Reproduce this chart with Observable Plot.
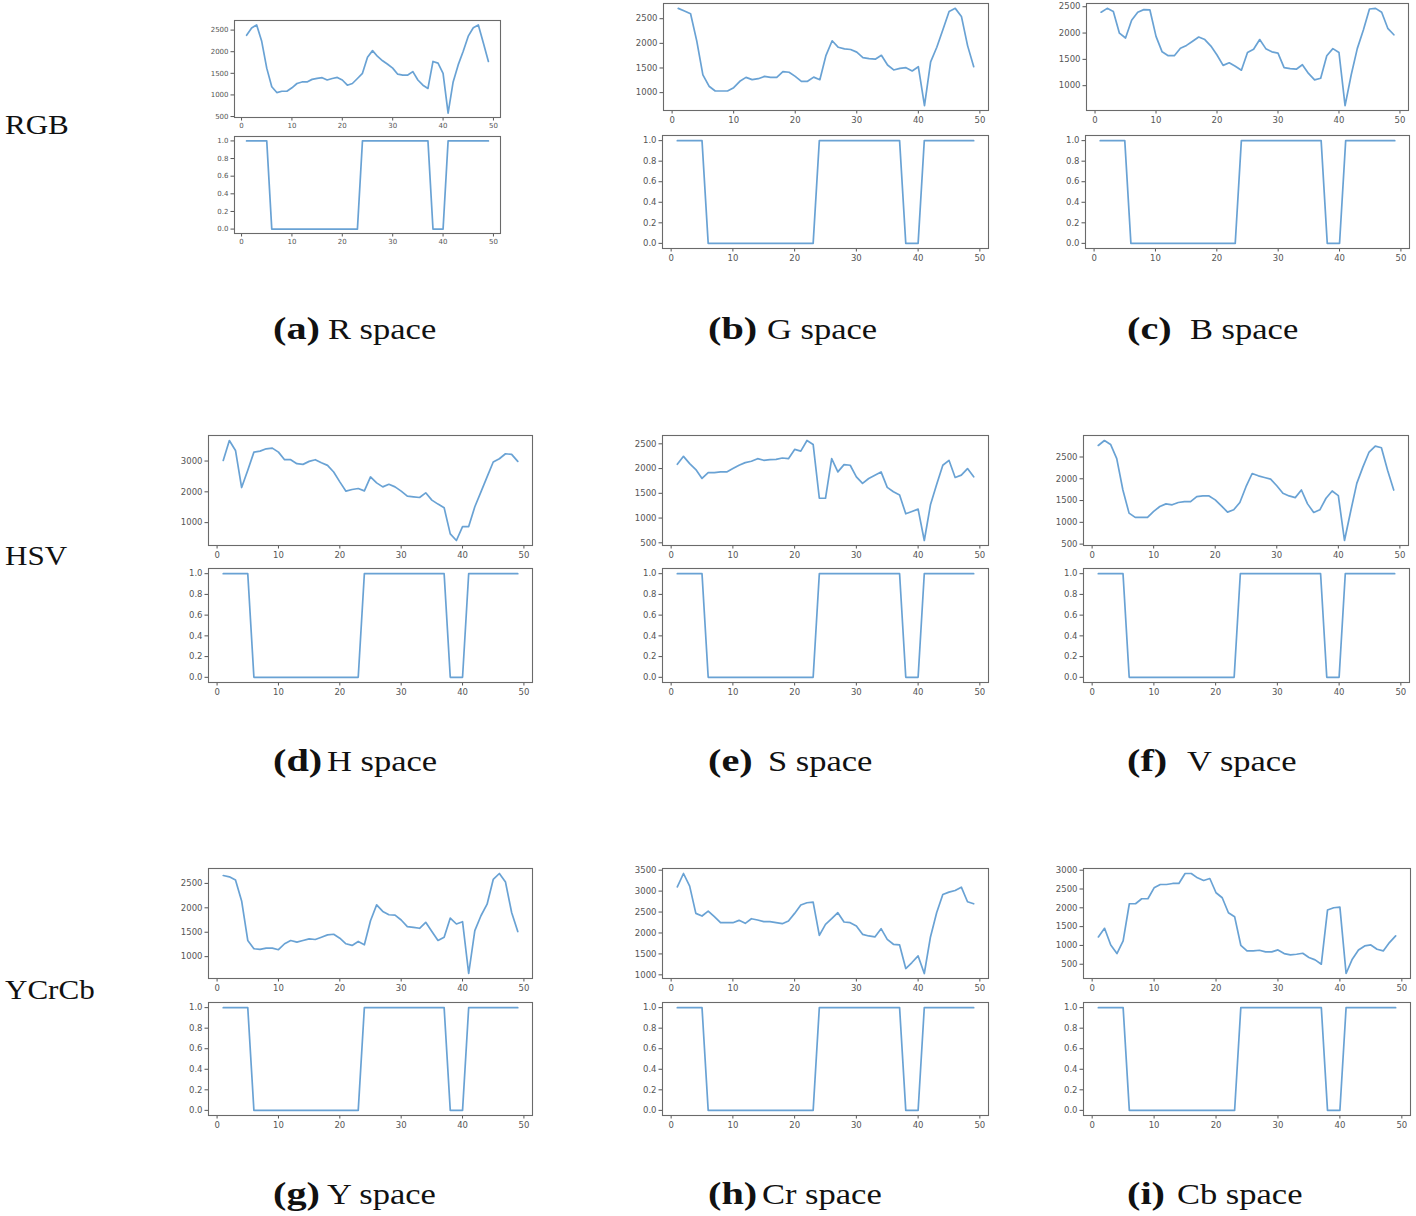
<!DOCTYPE html>
<html><head><meta charset="utf-8">
<script src="https://cdn.jsdelivr.net/npm/d3@7"></script>
<script src="https://cdn.jsdelivr.net/npm/@observablehq/plot@0.6"></script>
<style>
html,body{margin:0;padding:0;background:#fff}
body{width:1416px;height:1216px;position:relative;overflow:hidden}
svg.ov{position:absolute;left:0;top:0;pointer-events:none}
</style></head><body>
<script>
// frame index (x) 1..49
const frames = [1,2,3,4,5,6,7,8,9,10,11,12,13,14,15,16,17,18,19,20,21,22,23,24,25,26,27,28,29,30,31,32,33,34,35,36,37,38,39,40,41,42,43,44,45,46,47,48,49];
const xTicks = [0,10,20,30,40,50];

// per-channel signal values
const R  = [2380,2550,2620,2240,1620,1190,1055,1085,1085,1165,1265,1300,1300,1360,1383,1400,1345,1380,1405,1345,1225,1265,1380,1500,1870,2025,1890,1790,1710,1620,1480,1460,1460,1540,1345,1225,1150,1775,1735,1500,580,1300,1695,2010,2360,2555,2620,2200,1775];
const G  = [2710,2658,2600,2050,1362,1130,1033,1033,1033,1100,1230,1310,1263,1283,1330,1310,1310,1427,1414,1330,1230,1230,1315,1263,1757,2052,1920,1888,1875,1822,1710,1690,1678,1757,1560,1460,1493,1506,1440,1526,736,1625,1920,2283,2645,2710,2546,1954,1526];
const B  = [2396,2469,2408,1998,1906,2243,2396,2445,2439,1937,1643,1570,1570,1710,1765,1845,1925,1876,1753,1582,1386,1435,1368,1294,1631,1692,1876,1704,1643,1618,1343,1325,1313,1398,1233,1111,1141,1570,1704,1631,621,1203,1704,2059,2457,2469,2396,2090,1967];
const H  = [3021,3667,3344,2140,2700,3290,3322,3398,3419,3290,3043,3043,2914,2892,2989,3043,2946,2860,2645,2323,2022,2075,2108,2032,2484,2290,2161,2247,2161,2022,1860,1839,1817,1968,1731,1602,1484,635,420,872,872,1516,2000,2484,2968,3075,3237,3215,2989];
const S  = [2087,2247,2100,1980,1800,1920,1920,1933,1933,2000,2067,2120,2147,2200,2167,2180,2187,2213,2200,2387,2353,2567,2487,1400,1400,2200,1933,2080,2067,1833,1700,1800,1867,1933,1620,1533,1467,1087,1133,1180,547,1267,1680,2067,2167,1820,1867,2000,1833];
const V  = [2765,2879,2788,2462,1742,1212,1114,1114,1114,1250,1364,1424,1402,1455,1477,1477,1591,1606,1606,1515,1379,1235,1288,1455,1818,2121,2068,2030,1992,1841,1667,1606,1568,1742,1424,1227,1288,1553,1720,1614,583,1250,1894,2273,2614,2750,2712,2197,1742];
const Yc = [2662,2635,2568,2142,1331,1162,1149,1176,1176,1142,1264,1331,1297,1331,1365,1351,1399,1446,1459,1378,1264,1230,1311,1243,1736,2061,1926,1858,1851,1750,1615,1601,1581,1703,1514,1331,1399,1791,1669,1716,655,1534,1838,2074,2581,2703,2527,1905,1514];
const Cr = [3103,3421,3119,2468,2405,2524,2389,2246,2246,2246,2302,2230,2341,2310,2270,2270,2246,2222,2286,2468,2667,2722,2738,1944,2206,2341,2484,2262,2246,2167,1968,1929,1905,2103,1849,1730,1714,1151,1294,1452,1032,1905,2484,2921,2976,3016,3095,2746,2698];
const Cb = [1225,1455,1013,784,1119,2108,2108,2241,2241,2532,2620,2620,2647,2647,2912,2912,2797,2726,2779,2400,2267,1870,1764,1004,854,854,872,828,828,881,784,748,766,792,678,616,501,1940,2002,2020,254,634,881,987,1013,898,854,1075,1252];

// binary decision series (same for every channel)
const binary = [1,1,1,1,1,0,0,0,0,0,0,0,0,0,0,0,0,0,0,0,0,0,0,1,1,1,1,1,1,1,1,1,1,1,1,1,1,0,0,0,1,1,1,1,1,1,1,1,1];
const binTicks = [0,0.2,0.4,0.6,0.8,1.0];

// y tick labels per panel
const ticksR  = [500,1000,1500,2000,2500];
const ticksG  = [1000,1500,2000,2500];
const ticksB  = [1000,1500,2000,2500];
const ticksH  = [1000,2000,3000];
const ticksS  = [500,1000,1500,2000,2500];
const ticksV  = [500,1000,1500,2000,2500];
const ticksY  = [1000,1500,2000,2500];
const ticksCr = [1000,1500,2000,2500,3000,3500];
const ticksCb = [500,1000,1500,2000,2500,3000];

// captions
const rowLabels = ["RGB","HSV","YCrCb"];
const capLetters = ["(a)","(b)","(c)","(d)","(e)","(f)","(g)","(h)","(i)"];
const capNames = ["R space","G space","B space","H space","S space","V space","Y space","Cr space","Cb space"];

// layout (frames of the sub-axes)
const panels = [
  {vals:R,  ticks:ticksR,  top:[234,20,500,117],  bot:[234,136,500,233], fs:7},
  {vals:G,  ticks:ticksG,  top:[663,3,988,110],   bot:[662,135,988,248], fs:8.5},
  {vals:B,  ticks:ticksB,  top:[1086,3,1408,110], bot:[1085,135,1409,248], fs:8.5},
  {vals:H,  ticks:ticksH,  top:[208,435,532,545], bot:[208,568,532,682], fs:8.5},
  {vals:S,  ticks:ticksS,  top:[662,435,988,545], bot:[662,568,988,682], fs:8.5},
  {vals:V,  ticks:ticksV,  top:[1083,435,1408,545], bot:[1083,568,1409,682], fs:8.5},
  {vals:Yc, ticks:ticksY,  top:[208,868,532,978], bot:[208,1002,532,1115], fs:8.5},
  {vals:Cr, ticks:ticksCr, top:[662,868,988,978], bot:[662,1002,988,1115], fs:8.5},
  {vals:Cb, ticks:ticksCb, top:[1083,868,1410,978], bot:[1083,1002,1410,1115], fs:8.5}
];

const xExt = d3.extent(frames), xPad = (xExt[1]-xExt[0])*0.05;
const xDom = [xExt[0]-xPad, xExt[1]+xPad];

function sub(fr, ys, yTicks, fmt, fs){
  const [x0,y0,x1,y1] = fr;
  const ml=40, mr=6, mt=6, mb=22;
  const data = frames.map((x,i)=>({x, y: ys[i]}));
  const [lo,hi] = d3.extent(ys); const pad=(hi-lo)*0.05;
  const chart = Plot.plot({
    width: x1-x0+ml+mr, height: y1-y0+mt+mb,
    marginLeft:ml, marginRight:mr, marginTop:mt, marginBottom:mb,
    style:{fontFamily:"'DejaVu Sans', sans-serif", fontSize: fs+"px", color:"#555", background:"transparent", overflow:"visible"},
    x:{domain:xDom, ticks:xTicks, tickFormat:"d", tickSize:3.5, tickPadding:2.5, label:null},
    y:{domain:[lo-pad,hi+pad], ticks:yTicks, tickFormat:fmt, tickSize:3.5, tickPadding:2.5, label:null},
    marks:[
      Plot.frame({stroke:"#6a6a6a", strokeWidth:1.1}),
      Plot.line(data,{x:"x", y:"y", stroke:"#4f92cc", strokeWidth:1.7, strokeOpacity:0.85})
    ]
  });
  chart.style.position="absolute";
  chart.style.left=(x0-ml)+"px";
  chart.style.top=(y0-mt)+"px";
  chart.style.maxWidth="none";
  document.body.append(chart);
}

panels.forEach(p=>{
  sub(p.top, p.vals, p.ticks, "d", p.fs);
  sub(p.bot, binary, binTicks, ".1f", p.fs);
});

// text overlay
const ns="http://www.w3.org/2000/svg";
const ov=document.createElementNS(ns,"svg");
ov.setAttribute("class","ov"); ov.setAttribute("width",1416); ov.setAttribute("height",1216);
document.body.append(ov);
function txt(s,x,y,size,weight,sx){
  const t=document.createElementNS(ns,"text");
  t.setAttribute("transform",`translate(${x},${y}) scale(${sx},1)`);
  t.setAttribute("font-family","Liberation Serif, Times New Roman, serif");
  t.setAttribute("font-size",size);
  t.setAttribute("font-weight",weight);
  t.setAttribute("fill","#111");
  t.textContent=s; ov.append(t);
}
const rowBase=[134,565,999];
rowLabels.forEach((s,i)=>txt(s,5,rowBase[i],27,"normal",1.15));
const capBase=[339,771,1204];
const capX=[[273,328],[708,767],[1127,1190],[273,327],[708,768],[1127,1187],[273,327],[708,762],[1127,1177]];
capLetters.forEach((s,i)=>{
  const r=Math.floor(i/3);
  txt(s,capX[i][0],capBase[r],31,"bold",1.3);
  txt(capNames[i],capX[i][1],capBase[r],30,"normal",1.15);
});
</script>
</body></html>
